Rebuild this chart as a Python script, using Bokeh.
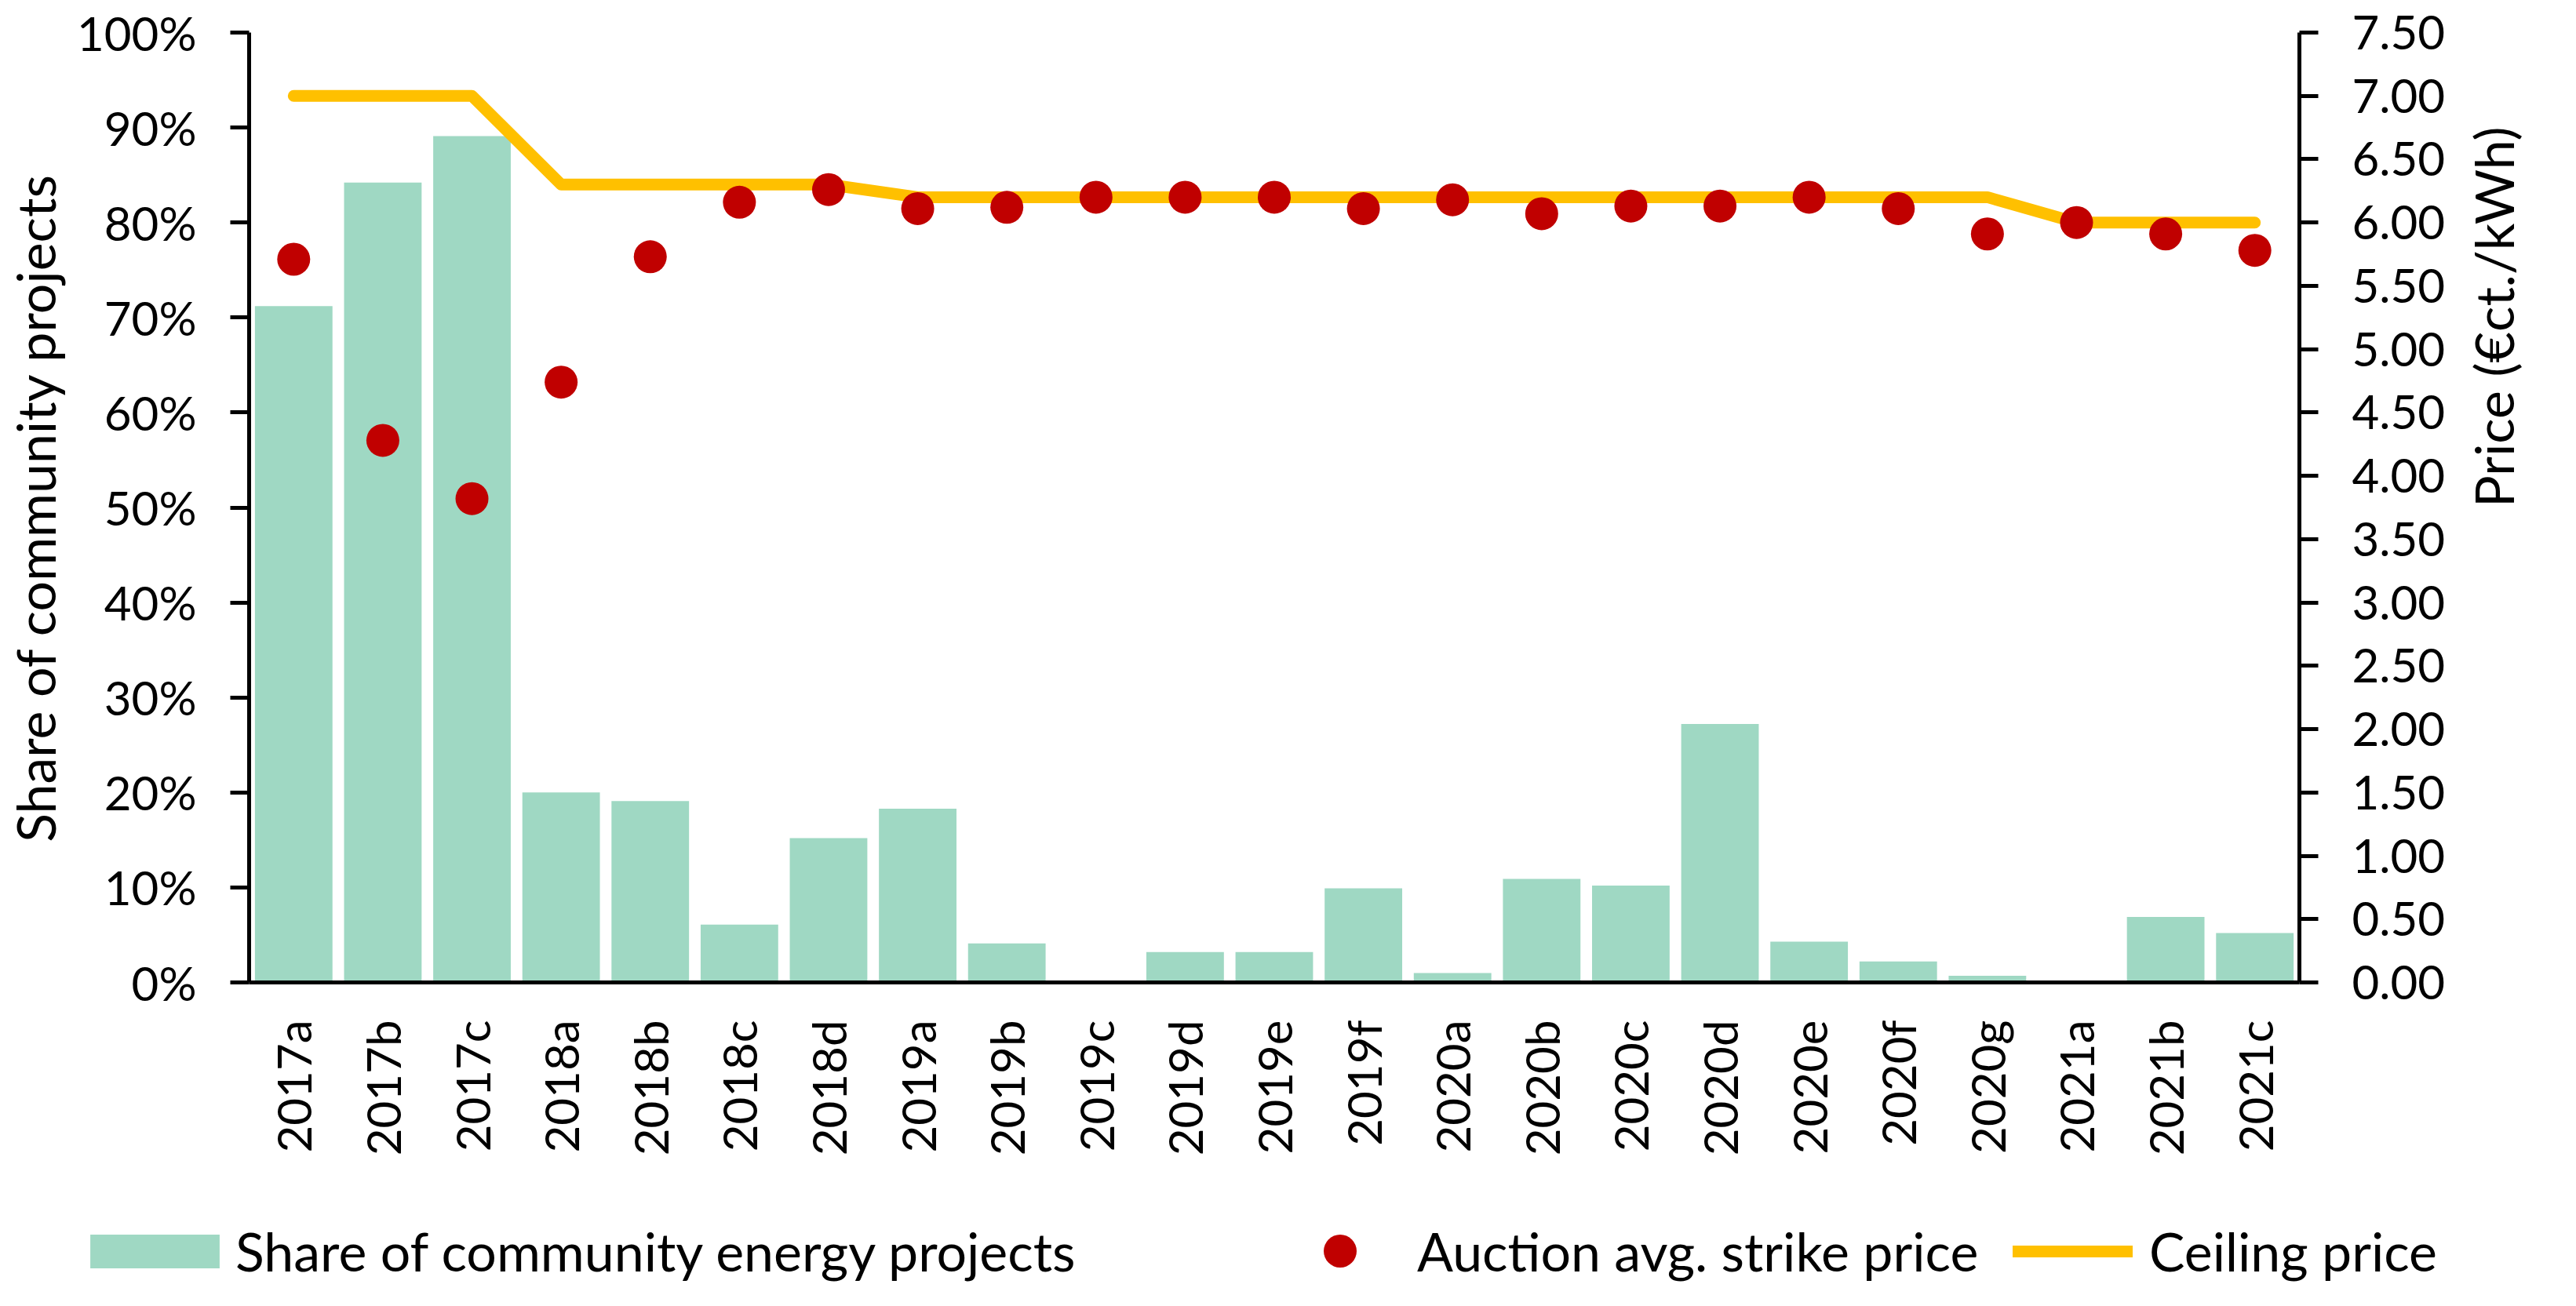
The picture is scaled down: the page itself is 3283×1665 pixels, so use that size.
import math
from bokeh.plotting import figure
from bokeh.models import (Range1d, LinearAxis, FixedTicker, PrintfTickFormatter,
                          Legend, LegendItem)
from bokeh.embed import file_html
from bokeh.resources import INLINE

categories = ["2017a", "2017b", "2017c", "2018a", "2018b", "2018c", "2018d",
              "2019a", "2019b", "2019c", "2019d", "2019e", "2019f",
              "2020a", "2020b", "2020c", "2020d", "2020e", "2020f", "2020g",
              "2021a", "2021b", "2021c"]
share_pct = [71.2, 84.2, 89.1, 20.0, 19.1, 6.1, 15.2,
             18.3, 4.1, 0.0, 3.2, 3.2, 9.9,
             1.0, 10.9, 10.2, 27.2, 4.3, 2.2, 0.7,
             0.0, 6.9, 5.2]
strike_price = [5.71, 4.28, 3.82, 4.74, 5.73, 6.16, 6.26,
                6.11, 6.12, 6.20, 6.20, 6.20, 6.11,
                6.18, 6.07, 6.13, 6.13, 6.20, 6.11, 5.91,
                6.00, 5.91, 5.78]
ceiling_price = [7.00, 7.00, 7.00, 6.30, 6.30, 6.30, 6.30,
                 6.20, 6.20, 6.20, 6.20, 6.20, 6.20,
                 6.20, 6.20, 6.20, 6.20, 6.20, 6.20, 6.20,
                 6.00, 6.00, 6.00]
pct_ticks = [0, 10, 20, 30, 40, 50, 60, 70, 80, 90, 100]
price_ticks = [0.0, 0.5, 1.0, 1.5, 2.0, 2.5, 3.0, 3.5, 4.0, 4.5, 5.0, 5.5,
               6.0, 6.5, 7.0, 7.5]
legend_labels = ["Share of community energy projects",
                 "Auction avg. strike price", "Ceiling price"]

FONT = "Lato"
FS = "60px"
TFS = "68px"
LFS = "68px"
BAR = "#9FD8C3"
RED = "#C00000"
YEL = "#FFC000"

W = 3267
H_MAIN = 1540
H_LEG = 109

p = figure(x_range=categories, y_range=Range1d(0, 100),
           width=W, height=H_MAIN, output_backend="svg", toolbar_location=None,
           min_border_left=317, min_border_right=337, min_border_top=41,
           min_border_bottom=H_MAIN - 1252)
p.extra_y_ranges = {"price": Range1d(0, 7.5)}
p.xgrid.visible = False
p.ygrid.visible = False
p.outline_line_color = None

p.vbar(x=categories, top=share_pct, width=0.87, fill_color=BAR, line_color=None)
p.line(x=categories, y=ceiling_price, y_range_name="price",
       line_color=YEL, line_width=15, line_cap="round", line_join="round")
p.scatter(x=categories, y=strike_price, y_range_name="price",
          size=42, fill_color=RED, line_color=None)

ya = p.yaxis[0]
ya.ticker = FixedTicker(ticks=pct_ticks)
ya.formatter = PrintfTickFormatter(format="%d%%")
ya.axis_label = "Share of community projects"

right = LinearAxis(y_range_name="price", ticker=FixedTicker(ticks=price_ticks),
                   formatter=PrintfTickFormatter(format="%.2f"),
                   axis_label="Price (€ct./kWh)")
p.add_layout(right, "right")

for ax in (ya, right):
    ax.axis_line_color = "black"
    ax.axis_line_width = 5
    ax.major_tick_line_color = "black"
    ax.major_tick_line_width = 5
    ax.major_tick_out = 24
    ax.major_tick_in = 0
    ax.minor_tick_line_color = None
    ax.major_label_text_font = FONT
    ax.major_label_text_font_size = FS
    ax.major_label_text_color = "black"
    ax.major_label_standoff = 43
    ax.axis_label_text_font = FONT
    ax.axis_label_text_font_size = TFS
    ax.axis_label_text_font_style = "normal"
    ax.axis_label_text_color = "black"
ya.axis_label_standoff = 10
right.axis_label_standoff = 58
if "axis_label_orientation" in LinearAxis.properties():
    right.axis_label_orientation = math.pi / 2

xa = p.xaxis[0]
xa.axis_line_color = "black"
xa.axis_line_width = 5
xa.major_tick_line_color = None
xa.major_tick_out = 0
xa.major_tick_in = 0
xa.major_label_orientation = math.pi / 2
xa.major_label_text_font = FONT
xa.major_label_text_font_size = FS
xa.major_label_text_color = "black"
xa.major_label_standoff = 48

# legend strip: proxy renderers hold only the styles (NaN data, nothing drawn)
q = figure(width=W, height=H_LEG, x_range=Range1d(0, 1), y_range=Range1d(0, 1),
           x_axis_type=None, y_axis_type=None, min_border=0,
           toolbar_location=None, output_backend="svg")
q.outline_line_color = None
nan = [float("nan")]
r_bar = q.vbar(x=nan, top=nan, width=0.87, fill_color=BAR, line_color=None)
r_dot = q.scatter(x=nan, y=nan, size=42, fill_color=RED, line_color=None)
r_line = q.line(x=nan, y=nan, line_color=YEL, line_width=15, line_cap="round")

def mk_legend(label, rend, x, y, gw, gh, standoff):
    lg = Legend(items=[LegendItem(label=label, renderers=[rend])],
                location=(x, y), orientation="horizontal",
                glyph_width=gw, glyph_height=gh, label_standoff=standoff,
                label_height=20, padding=0, margin=0, spacing=0,
                border_line_color=None, background_fill_alpha=0,
                label_text_font=FONT, label_text_font_size=LFS,
                label_text_color="black")
    q.add_layout(lg, "center")

mk_legend(legend_labels[0], r_bar, 94, 14, 206, 54, 0)
mk_legend(legend_labels[1], r_dot, 1655, 2, 105, 105, 46)
mk_legend(legend_labels[2], r_line, 2565, 14, 153, 54, 21)

open("out.html", "w").write(file_html([p, q], INLINE))
